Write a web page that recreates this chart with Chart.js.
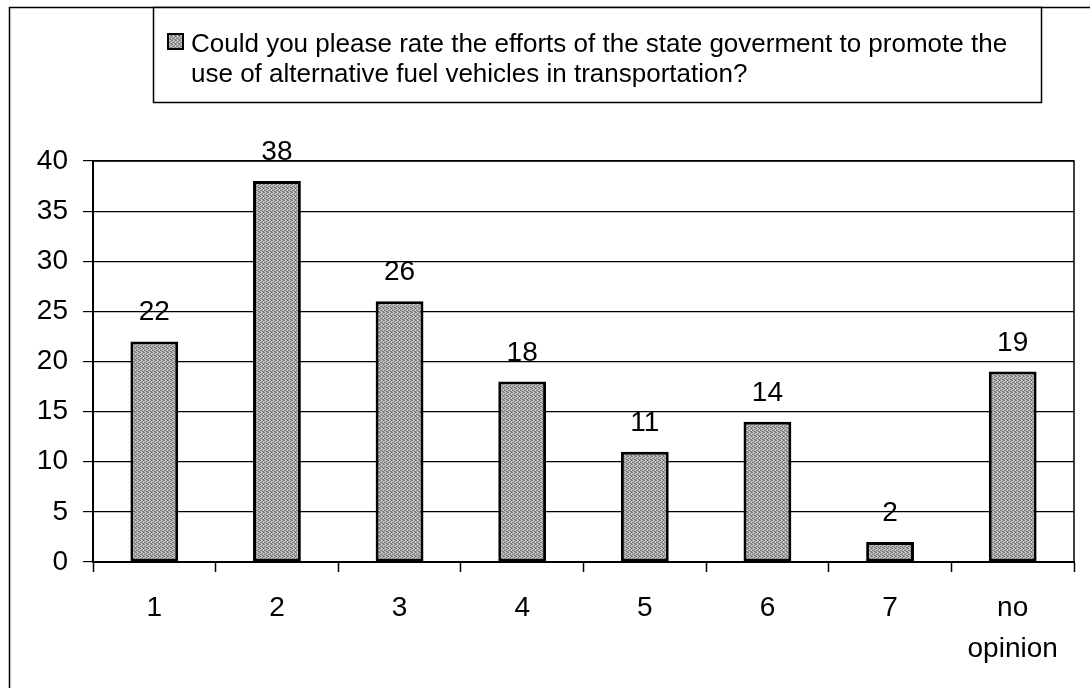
<!DOCTYPE html>
<html>
<head>
<meta charset="utf-8">
<script src="https://cdn.jsdelivr.net/npm/chart.js@4/dist/chart.umd.min.js"></script>
<style>
    html, body { margin: 0; padding: 0; background: #fff; }
    #wrap { width: 1090px; height: 688px; position: relative; }
</style>
</head>
<body>
<div id="wrap"><canvas id="rating_chart"></canvas></div>
<script>
const categories = ['1', '2', '3', '4', '5', '6', '7', ['no', 'opinion']];
const responses = [22, 38, 26, 18, 11, 14, 2, 19];
const yTicks = [0, 5, 10, 15, 20, 25, 30, 35, 40];
const seriesLabel = [
    'Could you please rate the efforts of the state goverment to promote the',
    'use of alternative fuel vehicles in transportation?'
];

Chart.defaults.font.family = "'Liberation Sans', Arial, sans-serif";
Chart.defaults.color = '#000';

/*grey stipple used for the bars and the legend swatch*/
function stipple() {
    const c = document.createElement('canvas');
    c.width = 4; c.height = 4;
    const g = c.getContext('2d');
    g.fillStyle = '#b8b8b8';
    g.fillRect(0, 0, 4, 4);
    g.fillStyle = '#7c7c7c';
    [[0, 0], [2, 1], [1, 2], [3, 3], [2, 3], [0, 2], [3, 0]].forEach(p => g.fillRect(p[0], p[1], 1, 1));
    g.fillStyle = '#d6d6d6';
    [[1, 0], [3, 2]].forEach(p => g.fillRect(p[0], p[1], 1, 1));
    return g.createPattern(c, 'repeat');
}
const barFill = stipple();

const frame = {
    id: 'frame',
    beforeDraw(chart) {
        const ctx = chart.ctx;
        ctx.save();
        ctx.strokeStyle = '#000';
        ctx.lineWidth = 1.5;
        ctx.beginPath();
        ctx.moveTo(9.5, 688);
        ctx.lineTo(9.5, 7.5);
        ctx.lineTo(1090, 7.5);
        ctx.stroke();
        ctx.restore();
    },
    afterDraw(chart) {
        const ctx = chart.ctx;
        const a = chart.chartArea;
        ctx.save();
        ctx.strokeStyle = '#000';
        ctx.lineWidth = 1.5;
        ctx.beginPath();
        ctx.moveTo(a.left, a.top);
        ctx.lineTo(a.right, a.top);
        ctx.lineTo(a.right, a.bottom);
        ctx.stroke();

        // legend box
        ctx.fillStyle = '#fff';
        ctx.fillRect(153, 7, 889, 96);
        ctx.strokeRect(153.5, 7.5, 888, 95);
        ctx.fillStyle = barFill;
        ctx.fillRect(168, 34, 15, 15);
        ctx.lineWidth = 2;
        ctx.strokeRect(168, 34, 15, 15);
        ctx.fillStyle = '#000';
        ctx.font = "26px 'Liberation Sans', Arial, sans-serif";
        ctx.textAlign = 'left';
        ctx.textBaseline = 'alphabetic';
        chart.data.datasets[0].label.forEach((t, i) => ctx.fillText(t, 191, 52 + i * 30));
        ctx.restore();
    }
};

const valueLabels = {
    id: 'valueLabels',
    afterDatasetsDraw(chart) {
        const ctx = chart.ctx;
        const meta = chart.getDatasetMeta(0);
        ctx.save();
        ctx.fillStyle = '#000';
        ctx.font = "28px 'Liberation Sans', Arial, sans-serif";
        ctx.textAlign = 'center';
        ctx.textBaseline = 'alphabetic';
        meta.data.forEach((bar, i) => {
            ctx.fillText(String(chart.data.datasets[0].data[i]), bar.x, bar.y - 21);
        });
        ctx.restore();
    }
};

const ratings = document.getElementById('rating_chart').getContext('2d');

new Chart(ratings, {
    type: 'bar',
    data: {
        labels: categories,
        datasets: [{
            label: seriesLabel,
            data: responses,
            backgroundColor: barFill,
            borderColor: '#000',
            borderWidth: 3,
            borderSkipped: false,
            categoryPercentage: 1,
            barPercentage: 0.39
        }]
    },
    options: {
        responsive: true,
        maintainAspectRatio: false,
        animation: false,
        layout: {
            padding: { top: 161, right: 16, left: 0, bottom: 0 }
        },
        plugins: {
            legend: { display: false },
            title: { display: false },
            tooltip: { enabled: false }
        },
        scales: {
            x: {
                offset: true,
                grid: {
                    offset: true,
                    drawOnChartArea: false,
                    color: '#000',
                    tickLength: 10,
                    tickWidth: 1.5
                },
                border: { color: '#000', width: 2 },
                ticks: {
                    font: { size: 28, lineHeight: 1.45 },
                    padding: 16,
                    maxRotation: 0
                },
                afterFit(scale) { scale.height = 126; }
            },
            y: {
                min: 0,
                max: 40,
                afterBuildTicks(scale) {
                    scale.ticks = yTicks.map(v => ({ value: v }));
                },
                grid: {
                    color: '#000',
                    lineWidth: 1.2,
                    tickLength: 10
                },
                border: { color: '#000', width: 2 },
                ticks: {
                    font: { size: 28 },
                    padding: 15
                },
                afterFit(scale) { scale.width = 93; }
            }
        }
    },
    plugins: [frame, valueLabels]
});
</script>
</body>
</html>
